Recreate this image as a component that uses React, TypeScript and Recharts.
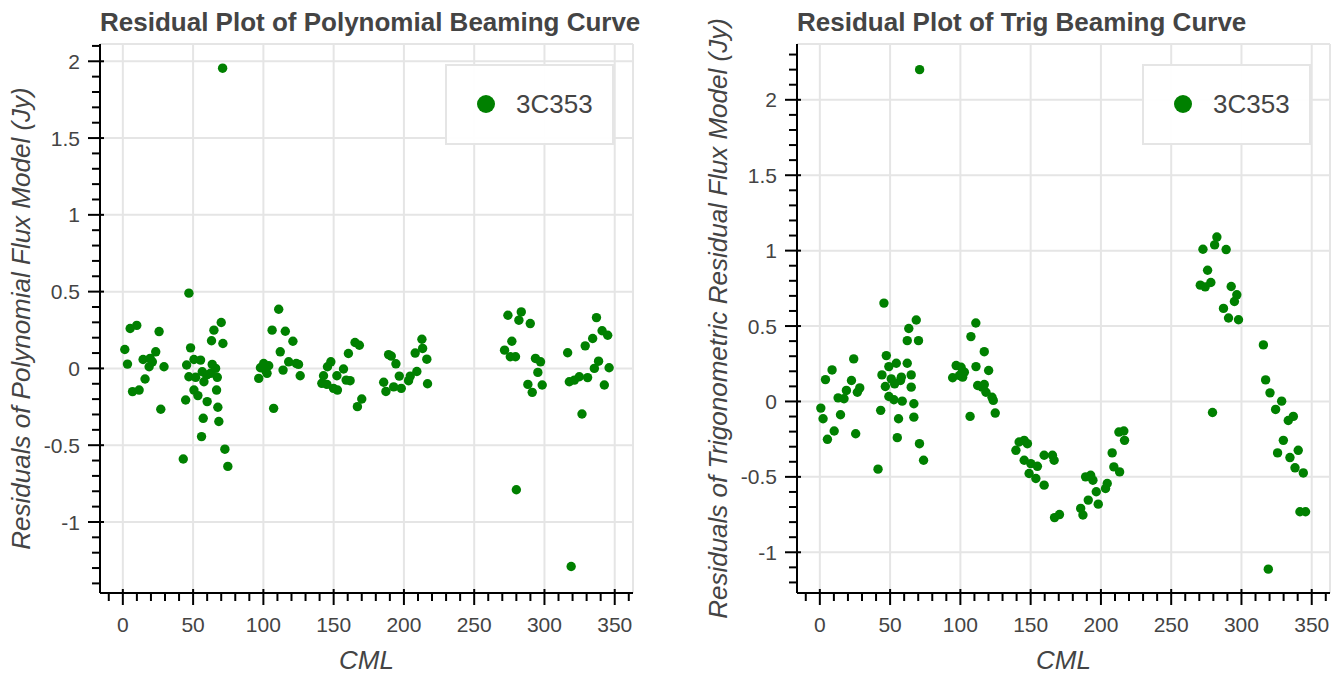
import React from 'react';
import { ScatterChart, Scatter, XAxis, YAxis, CartesianGrid, ReferenceLine } from 'recharts';

const FONT = '"Liberation Sans", Arial, Helvetica, sans-serif';
const TEXT = '#444444';
const GREEN = '#008000';
const GRID = '#e5e5e5';

const seriesName = '3C353';
const polyTitle = 'Residual Plot of Polynomial Beaming Curve';
const trigTitle = 'Residual Plot of Trig Beaming Curve';
const polyYLabel = 'Residuals of Polynomial Flux Model (Jy)';
const trigYLabel = 'Residuals of Trigonometric Residual Flux Model (Jy)';
const xLabel = 'CML';

const xDomain = [-16.25, 363];
const polyYDomain = [-1.4625, 2.1125];
const trigYDomain = [-1.27, 2.37];

const xMajor = [0, 50, 100, 150, 200, 250, 300, 350];
const xTicks = [-10, 0, 10, 20, 30, 40, 50, 60, 70, 80, 90, 100, 110, 120, 130, 140, 150, 160, 170, 180, 190, 200, 210, 220, 230, 240, 250, 260, 270, 280, 290, 300, 310, 320, 330, 340, 350, 360];
const yMajor = [-1, -0.5, 0, 0.5, 1, 1.5, 2];
const polyYTicks = [-1.4, -1.3, -1.2, -1.1, -1, -0.9, -0.8, -0.7, -0.6, -0.5, -0.4, -0.3, -0.2, -0.1, 0, 0.1, 0.2, 0.3, 0.4, 0.5, 0.6, 0.7, 0.8, 0.9, 1, 1.1, 1.2, 1.3, 1.4, 1.5, 1.6, 1.7, 1.8, 1.9, 2, 2.1];
const trigYTicks = [-1.2, -1.1, -1, -0.9, -0.8, -0.7, -0.6, -0.5, -0.4, -0.3, -0.2, -0.1, 0, 0.1, 0.2, 0.3, 0.4, 0.5, 0.6, 0.7, 0.8, 0.9, 1, 1.1, 1.2, 1.3, 1.4, 1.5, 1.6, 1.7, 1.8, 1.9, 2, 2.1, 2.2, 2.3];

const polyCml = [
  1.4, 3.3, 5.2, 6.9, 9.9, 11.6, 14.4, 15.8, 18.7, 19.4, 21.0, 23.4, 25.8, 27.0, 29.3,
  43.0, 44.7, 45.4, 47.0, 47.0, 48.2, 50.6, 50.6, 51.8, 53.4, 55.3, 56.0, 56.5, 57.2, 57.7, 59.6, 60.0, 62.4, 63.1, 63.6, 64.8, 66.0, 66.7, 67.2, 67.6, 68.3, 70.0, 71.0, 71.2, 72.6, 74.7,
  96.7, 97.9, 100.2, 101.4, 102.6, 103.8, 106.2, 107.3, 110.9, 112.0, 114.0, 115.6, 118.0, 121.0, 123.4, 125.0, 126.2,
  141.6, 142.8, 145.2, 145.6, 148.0, 149.9, 152.3, 152.7, 157.0, 158.9, 160.5, 161.7, 165.2, 166.9, 168.3, 170.0,
  185.6, 187.2, 189.1, 191.0, 192.7, 194.3, 196.7, 198.1, 203.3, 204.5, 208.0, 209.2, 212.8, 213.3, 216.3, 216.8,
  271.6, 274.0, 275.7, 276.8, 279.4, 280.0, 281.8, 283.5, 288.2, 289.9, 291.3, 293.6, 295.3, 297.2, 298.4,
  316.5, 317.7, 319.0, 321.3, 324.8, 326.7, 329.0, 330.7, 334.3, 335.5, 337.0, 338.5, 341.0, 342.6, 345.0, 346.0,
];
const polyResidual = [
  0.123, 0.028, 0.26, -0.151, 0.28, -0.141, 0.058, -0.069, 0.011, 0.065, 0.043, 0.108, 0.24, -0.266, 0.011,
  -0.59, -0.206, 0.022, 0.49, -0.054, 0.134, 0.058, -0.141, -0.058, -0.177, 0.054, -0.444, -0.022, -0.325, -0.087, -0.043, -0.216, -0.032, 0.18, 0.026, 0.249, 0.0, -0.141, -0.058, -0.253, -0.346, 0.299, 1.955, 0.162, -0.526, -0.638,
  -0.065, 0.004, 0.032, -0.011, -0.032, 0.017, 0.249, -0.26, 0.385, 0.108, -0.011, 0.242, 0.043, 0.177, 0.032, 0.026, -0.048,
  -0.097, -0.048, -0.104, 0.011, 0.043, -0.13, -0.048, -0.141, -0.004, -0.076, 0.097, -0.08, 0.169, -0.249, 0.151, -0.199,
  -0.09, -0.15, 0.09, 0.08, -0.12, 0.03, -0.05, -0.13, -0.08, -0.05, 0.1, -0.02, 0.19, 0.13, 0.06, -0.1,
  0.119, 0.346, 0.076, 0.177, 0.076, -0.79, 0.314, 0.368, -0.104, 0.292, -0.156, 0.065, -0.026, 0.043, -0.108,
  0.102, -0.087, -1.29, -0.076, -0.054, -0.297, 0.147, -0.06, 0.195, 0.0, 0.331, 0.047, 0.245, -0.108, 0.216, 0.004,
];

const trigCml = [
  0.7, 2.3, 4.0, 5.4, 8.7, 10.2, 13.0, 14.7, 17.2, 18.9, 22.5, 24.1, 25.5, 26.7, 28.4,
  41.4, 43.3, 44.2, 45.6, 46.6, 47.3, 49.1, 49.1, 50.8, 52.7, 53.2, 54.4, 55.1, 56.0, 57.4, 58.0, 58.6, 62.2, 62.2, 63.3, 65.0, 65.0, 66.9, 66.9, 68.6, 70.2, 70.9, 71.0, 73.8,
  94.5, 97.0, 99.3, 100.5, 101.6, 102.8, 107.5, 106.9, 111.0, 111.1, 112.3, 117.0, 115.4, 117.0, 118.2, 120.1, 122.5, 123.4, 124.8,
  139.5, 141.8, 145.4, 145.4, 147.7, 148.9, 150.1, 153.7, 154.8, 159.6, 159.6, 165.5, 166.7, 167.0, 170.5,
  185.6, 187.2, 189.1, 191.0, 192.7, 194.3, 196.7, 198.1, 203.3, 204.5, 208.0, 209.2, 212.8, 213.3, 216.3, 216.8,
  270.7, 272.6, 274.2, 275.9, 278.2, 279.4, 280.9, 282.5, 287.2, 289.1, 290.8, 292.7, 295.0, 296.7, 297.9,
  315.6, 317.2, 319.1, 320.3, 324.3, 325.7, 328.6, 329.8, 333.3, 334.5, 336.9, 338.1, 340.4, 341.6, 344.0, 345.6,
];
const trigResidual = [
  -0.044, -0.115, 0.145, -0.251, 0.209, -0.196, 0.024, -0.088, 0.018, 0.073, 0.139, 0.282, -0.214, 0.061, 0.09,
  -0.449, -0.059, 0.176, 0.652, 0.099, 0.304, 0.231, 0.033, 0.15, 0.011, 0.117, 0.253, -0.24, -0.115, 0.139, 0.161, 0.002, 0.253, 0.403, 0.484, 0.176, 0.095, -0.015, -0.104, 0.54, 0.403, -0.28, 2.2, -0.39,
  0.157, 0.238, 0.172, 0.227, 0.161, 0.194, 0.43, -0.099, 0.52, 0.231, 0.106, 0.33, 0.095, 0.112, 0.061, 0.205, 0.028, 0.007, -0.077,
  -0.324, -0.269, -0.258, -0.39, -0.28, -0.478, -0.412, -0.511, -0.43, -0.555, -0.357, -0.357, -0.39, -0.77, -0.75,
  -0.709, -0.753, -0.5, -0.654, -0.489, -0.522, -0.599, -0.681, -0.577, -0.544, -0.341, -0.434, -0.203, -0.467, -0.196, -0.258,
  0.771, 1.009, 0.76, 0.87, 0.789, -0.073, 1.038, 1.09, 0.617, 1.007, 0.553, 0.762, 0.663, 0.707, 0.542,
  0.375, 0.143, -1.112, 0.057, -0.053, -0.341, 0.002, -0.258, -0.126, -0.372, -0.099, -0.44, -0.324, -0.731, -0.474, -0.731,
];

const polyData = polyCml.map((x, i) => ({ x, y: polyResidual[i] }));
const trigData = trigCml.map((x, i) => ({ x, y: trigResidual[i] }));

const isMajor = (v: number, step: number) => Math.abs(v / step - Math.round(v / step)) < 1e-6;

function XTick(props: any) {
  const { x, y, payload } = props;
  const v = payload.value;
  const major = isMajor(v, 50);
  return (
    <g>
      <line x1={x} x2={x} y1={major ? y - 4 : y} y2={y + (major ? 12 : 8)} stroke="#000" strokeWidth={2} />
      {major && (
        <text x={x} y={y + 39} textAnchor="middle" fill={TEXT} fontSize={21} fontFamily={FONT}>
          {String(v)}
        </text>
      )}
    </g>
  );
}

function YTick(props: any) {
  const { x, y, payload } = props;
  const v = payload.value;
  const major = isMajor(v, 0.5);
  return (
    <g>
      <line x1={x - (major ? 12 : 8)} x2={major ? x + 4 : x} y1={y} y2={y} stroke="#000" strokeWidth={2} />
      {major && (
        <text x={x - 20} y={y} dy="0.36em" textAnchor="end" fill={TEXT} fontSize={21} fontFamily={FONT}>
          {String(v)}
        </text>
      )}
    </g>
  );
}

const dot = (p: any) => <circle cx={p.cx} cy={p.cy} r={4.7} fill={GREEN} />;

function Panel(props: { data: any[]; yDomain: number[]; yTicks: number[]; width: number; right: number }) {
  const { data, yDomain, yTicks, width, right } = props;
  return (
    <ScatterChart width={width} height={677} margin={{ top: 44, right, bottom: 0, left: 0 }}>
      <CartesianGrid stroke={GRID} strokeWidth={2} verticalValues={xMajor} horizontalValues={yMajor} />
      <ReferenceLine y={yDomain[1]} stroke={GRID} strokeWidth={2} ifOverflow="visible" />
      <ReferenceLine x={xDomain[1]} stroke={GRID} strokeWidth={2} ifOverflow="visible" />
      <XAxis
        type="number"
        dataKey="x"
        domain={xDomain}
        allowDataOverflow
        ticks={xTicks}
        interval={0}
        tickSize={0}
        tickMargin={0}
        height={84}
        tick={<XTick />}
        tickLine={false}
        axisLine={{ stroke: '#000', strokeWidth: 2 }}
      />
      <YAxis
        type="number"
        dataKey="y"
        domain={yDomain}
        allowDataOverflow
        ticks={yTicks}
        interval={0}
        tickSize={0}
        tickMargin={0}
        width={100}
        tick={<YTick />}
        tickLine={false}
        axisLine={{ stroke: '#000', strokeWidth: 2 }}
      />
      <Scatter data={data} fill={GREEN} shape={dot} isAnimationActive={false} />
    </ScatterChart>
  );
}

function Legend(props: { x: number }) {
  const { x } = props;
  return (
    <g>
      <rect x={x} y={65} width={167} height={79} fill="#ffffff" fillOpacity={0.95} stroke={GRID} strokeWidth={2} />
      <circle cx={x + 40} cy={104} r={9} fill={GREEN} />
      <text x={x + 70} y={113} fontSize={26} fill={TEXT} fontFamily={FONT}>{seriesName}</text>
    </g>
  );
}

export default function App() {
  return (
    <div style={{ position: 'absolute', left: 0, top: 0, width: 1338, height: 677, background: '#fff' }}>
      <div style={{ position: 'absolute', left: 0, top: 0 }}>
        <Panel data={polyData} yDomain={polyYDomain} yTicks={polyYTicks} width={669} right={36} />
      </div>
      <div style={{ position: 'absolute', left: 697, top: 0 }}>
        <Panel data={trigData} yDomain={trigYDomain} yTicks={trigYTicks} width={641} right={8} />
      </div>
      <svg width={1338} height={677} style={{ position: 'absolute', left: 0, top: 0, pointerEvents: 'none' }}>
        <text x={100} y={31} fontSize={26} fontWeight="bold" fill={TEXT} fontFamily={FONT}>{polyTitle}</text>
        <text x={797} y={31} fontSize={26} fontWeight="bold" fill={TEXT} fontFamily={FONT}>{trigTitle}</text>
        <text transform="translate(30, 318.5) rotate(-90)" textAnchor="middle" fontSize={26} fontStyle="italic" fill={TEXT} fontFamily={FONT}>{polyYLabel}</text>
        <text transform="translate(727, 318.5) rotate(-90)" textAnchor="middle" fontSize={26} fontStyle="italic" fill={TEXT} fontFamily={FONT}>{trigYLabel}</text>
        <text x={366.5} y={669} textAnchor="middle" fontSize={26} fontStyle="italic" fill={TEXT} fontFamily={FONT}>{xLabel}</text>
        <text x={1063.5} y={669} textAnchor="middle" fontSize={26} fontStyle="italic" fill={TEXT} fontFamily={FONT}>{xLabel}</text>
        <Legend x={446} />
        <Legend x={1143} />
      </svg>
    </div>
  );
}
